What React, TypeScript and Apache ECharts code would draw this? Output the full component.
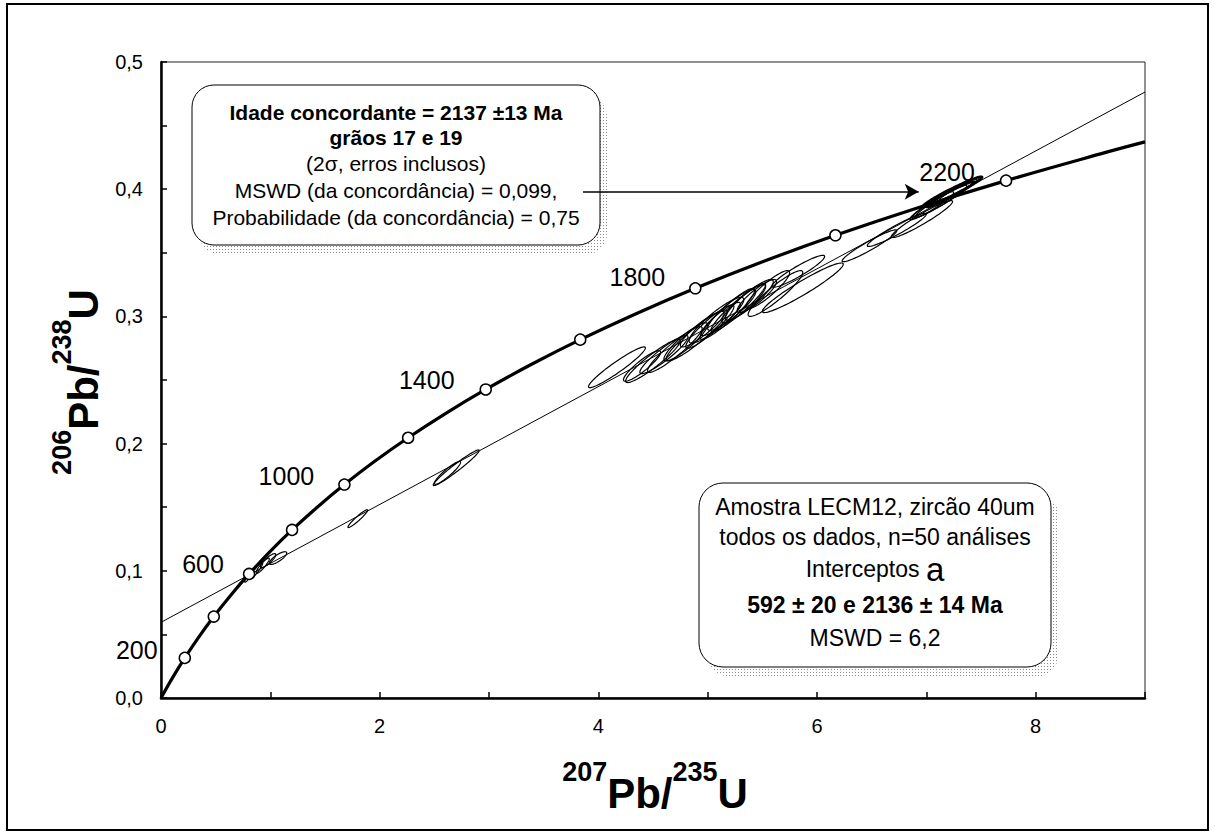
import React, { useEffect, useRef } from 'react';
import * as echarts from 'echarts';

// Concordia curve (ages in Ma and the ratios at those ages)
const concAges = [0, 100, 200, 300, 400, 500, 600, 700, 800, 900, 1000, 1100, 1200, 1300, 1400, 1500, 1600, 1700, 1800, 1900, 2000, 2100, 2200, 2300, 2338];
const concX = [0, 0.1035, 0.2177, 0.3437, 0.4828, 0.6363, 0.8056, 0.9925, 1.1987, 1.4263, 1.6774, 1.9545, 2.2603, 2.5977, 2.9701, 3.381, 3.8344, 4.3348, 4.8869, 5.4962, 6.1685, 6.9105, 7.7292, 8.6326, 9.0];
const concY = [0, 0.01563, 0.03151, 0.04764, 0.06402, 0.08065, 0.09754, 0.1147, 0.13213, 0.14983, 0.1678, 0.18606, 0.2046, 0.22343, 0.24256, 0.26199, 0.28172, 0.30175, 0.3221, 0.34277, 0.36377, 0.38509, 0.40674, 0.42873, 0.43718];
const markedAges = [200, 400, 600, 800, 1000, 1200, 1400, 1600, 1800, 2000, 2200];
const labelledAges = [200, 600, 1000, 1400, 1800, 2200];

// Discordia line
const discordiaX = [0, 9];
const discordiaY = [0.0595, 0.4764];

// Error ellipses: centre, 2-sigma half extents, correlation
const ellCx = [0.80, 0.87, 0.93, 0.98, 1.07, 1.80, 2.70, 2.62, 4.17, 4.40, 4.50, 4.60, 4.70, 4.80, 4.90, 4.95, 5.02, 5.08, 5.12, 5.18, 5.22, 5.28, 5.33, 5.38, 5.45, 5.55, 5.87, 5.83, 5.62, 6.48, 6.73, 6.96, 7.05, 7.12, 7.18, 7.24, 7.22, 7.30];
const ellCy = [0.0955, 0.100, 0.104, 0.108, 0.110, 0.141, 0.181, 0.177, 0.260, 0.261, 0.265, 0.270, 0.274, 0.280, 0.285, 0.290, 0.292, 0.297, 0.298, 0.302, 0.305, 0.307, 0.310, 0.313, 0.316, 0.321, 0.3225, 0.3355, 0.318, 0.3555, 0.368, 0.3765, 0.387, 0.390, 0.393, 0.398, 0.396, 0.400];
const ellEx = [0.035, 0.06, 0.06, 0.07, 0.08, 0.09, 0.21, 0.12, 0.26, 0.17, 0.25, 0.22, 0.25, 0.20, 0.28, 0.20, 0.22, 0.25, 0.18, 0.25, 0.22, 0.25, 0.20, 0.22, 0.18, 0.20, 0.37, 0.24, 0.25, 0.25, 0.27, 0.28, 0.20, 0.25, 0.28, 0.27, 0.22, 0.18];
const ellEy = [0.0045, 0.0065, 0.006, 0.0055, 0.005, 0.007, 0.014, 0.009, 0.016, 0.012, 0.017, 0.015, 0.018, 0.015, 0.020, 0.014, 0.017, 0.018, 0.013, 0.020, 0.016, 0.019, 0.015, 0.016, 0.013, 0.015, 0.0195, 0.0125, 0.018, 0.0125, 0.013, 0.0145, 0.011, 0.013, 0.015, 0.0118, 0.010, 0.009];
const ellRho = [0.9, 0.92, 0.9, 0.85, 0.8, 0.95, 0.97, 0.92, 0.95, 0.9, 0.93, 0.92, 0.93, 0.9, 0.93, 0.9, 0.92, 0.9, 0.9, 0.93, 0.9, 0.94, 0.9, 0.9, 0.88, 0.9, 0.95, 0.93, 0.92, 0.95, 0.95, 0.95, 0.95, 0.96, 0.97, 0.97, 0.97, 0.96];
const concordantGrains = [35, 36];

// Arrow from the concordant-age box to the concordant grains
const arrowFrom = [3.86, 0.398];
const arrowTo = [6.93, 0.398];

const FONT = "'Liberation Sans', Arial, Helvetica, sans-serif";

const labelOffsets: number[][] = [[-48, -8], [-46, -10], [-58, -9], [-59, -9], [-58, -11], [-59, -9]];

function titleRich() {
  return {
    main: { fontSize: 42, fontWeight: 'bold', fontFamily: FONT, lineHeight: 56, verticalAlign: 'bottom', fill: '#000' },
    sup: { fontSize: 27, fontWeight: 'bold', fontFamily: FONT, lineHeight: 28, verticalAlign: 'top', fill: '#000' },
  };
}

function dotPattern(): any {
  try {
    const c = document.createElement('canvas');
    c.width = 3;
    c.height = 3;
    const ctx = c.getContext('2d');
    if (!ctx) return '#e2e2e2';
    ctx.fillStyle = '#8c8c8c';
    ctx.fillRect(0, 0, 1, 1);
    return { image: c, repeat: 'repeat' };
  } catch (e) {
    return '#e2e2e2';
  }
}

export default function App() {
  const ref = useRef<HTMLDivElement>(null);
  useEffect(() => {
    const chart = echarts.init(ref.current!, null, { renderer: 'svg' });
    const idx = (a: number) => concAges.indexOf(a);
    const curveData = concX.map((x, i) => [x, concY[i]]);
    const circleData = markedAges.map((a) => [concX[idx(a)], concY[idx(a)]]);
    const labelData = labelledAges.map((a, i) => ({
      value: [concX[idx(a)], concY[idx(a)]],
      name: String(a),
      label: { offset: labelOffsets[i] },
    }));
    const ellData = ellCx.map((cx, i) => [cx, ellCy[i], ellEx[i], ellEy[i], ellRho[i], concordantGrains.includes(i) ? 1 : 0]);
    const shadowFill = dotPattern();

    const textBase = { fontFamily: FONT, fill: '#000', align: 'center', verticalAlign: 'middle' };
    const box1Lines = [
      { t: 'Idade concordante = 2137 ±13 Ma', y: 112, b: true },
      { t: 'grãos 17 e 19', y: 137, b: true },
      { t: '(2σ, erros inclusos)', y: 163, b: false },
      { t: 'MSWD (da concordância) = 0,099,', y: 190, b: false },
      { t: 'Probabilidade (da concordância) = 0,75', y: 217, b: false },
    ];
    const box2Lines = [
      { t: 'Amostra LECM12, zircão 40um', y: 507, b: false },
      { t: 'todos os dados, n=50 análises', y: 537, b: false },
      { t: 'Interceptos {a|a}', y: 569, b: false },
      { t: '592 ± 20 e 2136 ± 14 Ma', y: 605, b: true },
      { t: 'MSWD = 6,2', y: 638, b: false },
    ];

    const graphic: any[] = [
      { type: 'rect', shape: { x: 7, y: 4, width: 1201, height: 826 }, style: { fill: 'none', stroke: '#000', lineWidth: 2 }, z: 0 },
      // box 1
      { type: 'rect', shape: { x: 199, y: 95, width: 408, height: 160, r: 22 }, style: { fill: shadowFill }, z: 1 },
      { type: 'rect', shape: { x: 192, y: 85, width: 408, height: 160, r: 22 }, style: { fill: '#fff', stroke: '#000', lineWidth: 1 }, z: 1 },
      ...box1Lines.map((l) => ({
        type: 'text', x: 396, y: l.y, z: 2,
        style: { ...textBase, text: l.t, fontSize: 21, fontWeight: l.b ? 'bold' : 'normal' },
      })),
      // box 2
      { type: 'rect', shape: { x: 707, y: 493, width: 352, height: 184, r: 24 }, style: { fill: shadowFill }, z: 1 },
      { type: 'rect', shape: { x: 699, y: 483, width: 352, height: 184, r: 24 }, style: { fill: '#fff', stroke: '#000', lineWidth: 1 }, z: 1 },
      ...box2Lines.map((l) => ({
        type: 'text', x: 875, y: l.y, z: 2,
        style: {
          ...textBase, text: l.t, fontSize: 23, fontWeight: l.b ? 'bold' : 'normal',
          rich: { a: { fontSize: 33, fontFamily: FONT, fill: '#000' } },
        },
      })),
      // axis titles
      {
        type: 'text', x: 655, y: 786, z: 2,
        style: { text: '{sup|207}{main|Pb/}{sup|235}{main|U}', rich: titleRich(), align: 'center', verticalAlign: 'middle' },
      },
      {
        type: 'text', x: 76, y: 382, rotation: Math.PI / 2, z: 2,
        style: { text: '{sup|206}{main|Pb/}{sup|238}{main|U}', rich: titleRich(), align: 'center', verticalAlign: 'middle' },
      },
    ];

    const option: any = {
      animation: false,
      backgroundColor: '#fff',
      grid: { left: 161, right: 70, top: 62, bottom: 138, show: true, borderColor: '#222', borderWidth: 1, backgroundColor: 'transparent' },
      xAxis: {
        type: 'value', min: 0, max: 9, interval: 1,
        axisLine: { show: true, onZero: false, lineStyle: { color: '#000', width: 2.5 } },
        axisTick: { show: true, inside: true, length: 6, lineStyle: { color: '#000', width: 1.5 } },
        splitLine: { show: false },
        axisLabel: {
          margin: 18, color: '#000', fontSize: 20, fontFamily: FONT,
          formatter: (v: number) => (Math.round(v) % 2 === 0 ? String(Math.round(v)) : ''),
        },
      },
      yAxis: {
        type: 'value', min: 0, max: 0.5, interval: 0.05,
        axisLine: { show: true, onZero: false, lineStyle: { color: '#000', width: 2.5 } },
        axisTick: { show: true, inside: true, length: 6, lineStyle: { color: '#000', width: 1.5 } },
        splitLine: { show: false },
        axisLabel: {
          margin: 18, color: '#000', fontSize: 20, fontFamily: FONT,
          formatter: (v: number) => {
            const k = Math.round(v * 100);
            return k % 10 === 0 ? (k / 100).toFixed(1).replace('.', ',') : '';
          },
        },
      },
      graphic,
      series: [
        {
          type: 'custom', name: 'ellipses', z: 3, clip: true,
          data: ellData,
          renderItem: (params: any, api: any) => {
            const cx = api.value(0), cy = api.value(1), ex = api.value(2), ey = api.value(3), rho = api.value(4), bold = api.value(5);
            const pts: number[][] = [];
            const s = Math.sqrt(1 - rho * rho);
            for (let k = 0; k <= 96; k++) {
              const th = (2 * Math.PI * k) / 96;
              pts.push(api.coord([cx + ex * Math.cos(th), cy + ey * (rho * Math.cos(th) + s * Math.sin(th))]));
            }
            return { type: 'polygon', shape: { points: pts }, style: { fill: 'none', stroke: '#000', lineWidth: bold ? 2.6 : 1.2, opacity: 1 } };
          },
        },
        {
          type: 'line', name: 'discordia', data: discordiaX.map((x, i) => [x, discordiaY[i]]),
          showSymbol: false, symbol: 'none', lineStyle: { color: '#000', width: 1 }, z: 4, silent: true,
          markLine: {
            silent: true, symbol: ['none', 'arrow'], symbolSize: [12, 14],
            label: { show: false },
            lineStyle: { color: '#000', width: 1.5, type: 'solid' },
            data: [[{ coord: arrowFrom }, { coord: arrowTo }]],
          },
        },
        {
          type: 'line', name: 'concordia', data: curveData, smooth: 0.4,
          showSymbol: false, symbol: 'none', lineStyle: { color: '#000', width: 3.2 }, z: 5, silent: true,
        },
        {
          type: 'scatter', name: 'ages', data: circleData, symbol: 'circle', symbolSize: 11,
          itemStyle: { color: '#fff', borderColor: '#000', borderWidth: 1.5, opacity: 1 }, z: 6, silent: true,
        },
        {
          type: 'scatter', name: 'ageLabels', data: labelData, symbolSize: 0, z: 7, silent: true, clip: false,
          itemStyle: { color: '#000', opacity: 1 },
          label: {
            show: true, position: 'inside', formatter: (p: any) => p.name,
            color: '#000', fontSize: 25, fontFamily: FONT, align: 'center', verticalAlign: 'middle',
            textBorderWidth: 0, textBorderColor: 'transparent',
          },
        },
      ],
    };
    chart.setOption(option);
    return () => chart.dispose();
  }, []);
  return <div ref={ref} style={{ position: 'absolute', left: 0, top: 0, width: 1215, height: 836, background: '#fff' }} />;
}
